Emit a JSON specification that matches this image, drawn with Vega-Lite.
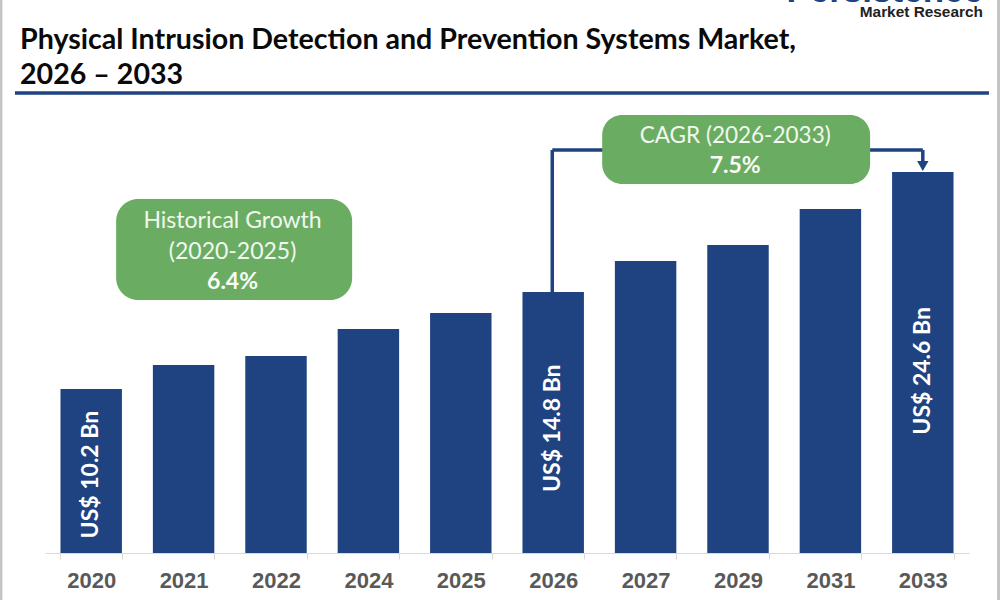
{
  "$schema": "https://vega.github.io/schema/vega-lite/v6.json",
  "width": 924,
  "height": 461,
  "autosize": "none",
  "padding": {"left": 45, "right": 31, "top": 92, "bottom": 47},
  "background": "white",
  "title": {
    "text": ["Physical Intrusion Detection and Prevention Systems Market,", "2026 – 2033"],
    "anchor": "start",
    "frame": "group",
    "dx": -25,
    "offset": -116,
    "font": "Lato",
    "fontWeight": "bold",
    "fontSize": 28.6,
    "lineHeight": 35,
    "color": "#0a0a0a"
  },
  "config": {"view": {"stroke": null}},
  "data": {"values": [{}]},
  "layer": [
    {
      "data": {"values": [
        {"year": "2020", "value": 164},
        {"year": "2021", "value": 188},
        {"year": "2022", "value": 197},
        {"year": "2024", "value": 224},
        {"year": "2025", "value": 240},
        {"year": "2026", "value": 261},
        {"year": "2027", "value": 292},
        {"year": "2029", "value": 308},
        {"year": "2031", "value": 344},
        {"year": "2033", "value": 381}
      ]},
      "mark": {"type": "bar", "color": "#1f4280"},
      "encoding": {
        "x": {
          "field": "year",
          "type": "nominal",
          "title": null,
          "scale": {"paddingInner": 0.335, "paddingOuter": 0.1675},
          "axis": {
            "labelAngle": 0,
            "labelFont": "Liberation Sans",
            "labelFontWeight": "bold",
            "labelFontSize": 22,
            "labelColor": "#595959",
            "labelPadding": 11,
            "tickBand": "extent",
            "tickSize": 6,
            "tickColor": "#d9d9d9",
            "domainColor": "#d9d9d9",
            "grid": false
          }
        },
        "y": {"field": "value", "type": "quantitative", "scale": {"domain": [0, 461]}, "axis": null}
      }
    },
    {
      "data": {"values": [
        {"year": "2020", "value": 164, "label": "US$ 10.2 Bn"},
        {"year": "2026", "value": 261, "label": "US$ 14.8 Bn"},
        {"year": "2033", "value": 381, "label": "US$ 24.6 Bn"}
      ]},
      "transform": [{"calculate": "datum.value * 0.478", "as": "labelAt"}],
      "mark": {"type": "text", "angle": 270, "font": "Lato", "fontWeight": "bold", "fontSize": 23, "color": "white"},
      "encoding": {
        "x": {"field": "year", "type": "nominal", "axis": null, "scale": {"domain": ["2020","2021","2022","2024","2025","2026","2027","2029","2031","2033"]}},
        "y": {"field": "labelAt", "type": "quantitative", "axis": null, "scale": {"domain": [0, 461]}},
        "text": {"field": "label"}
      }
    },
    {
      "mark": {"type": "rule", "color": "#1f4280", "strokeWidth": 3.5},
      "encoding": {
        "x": {"datum": 5.49, "type": "quantitative", "axis": null, "scale": {"domain": [0, 10]}},
        "y": {"datum": 261, "axis": null, "scale": {"domain": [0, 461]}},
        "y2": {"datum": 403}
      }
    },
    {
      "mark": {"type": "rule", "color": "#1f4280", "strokeWidth": 3.5},
      "encoding": {
        "x": {"datum": 5.49, "type": "quantitative", "axis": null, "scale": {"domain": [0, 10]}},
        "x2": {"datum": 9.5},
        "y": {"datum": 403, "axis": null, "scale": {"domain": [0, 461]}}
      }
    },
    {
      "mark": {"type": "rule", "color": "#1f4280", "strokeWidth": 3.5},
      "encoding": {
        "x": {"datum": 9.5, "type": "quantitative", "axis": null, "scale": {"domain": [0, 10]}},
        "y": {"datum": 403, "axis": null, "scale": {"domain": [0, 461]}},
        "y2": {"datum": 388}
      }
    },
    {
      "mark": {"type": "point", "shape": "triangle-down", "filled": true, "color": "#1f4280", "size": 130, "opacity": 1},
      "encoding": {
        "x": {"datum": 9.5, "type": "quantitative", "axis": null, "scale": {"domain": [0, 10]}},
        "y": {"datum": 387, "axis": null, "scale": {"domain": [0, 461]}}
      }
    },
    {
      "mark": {"type": "rect", "color": "#6aad62", "cornerRadius": 22},
      "encoding": {
        "x": {"datum": 0.77, "type": "quantitative", "axis": null, "scale": {"domain": [0, 10]}},
        "x2": {"datum": 3.324},
        "y": {"datum": 354, "axis": null, "scale": {"domain": [0, 461]}},
        "y2": {"datum": 253}
      }
    },
    {
      "mark": {"type": "rect", "color": "#6aad62", "cornerRadius": 20},
      "encoding": {
        "x": {"datum": 6.03, "type": "quantitative", "axis": null, "scale": {"domain": [0, 10]}},
        "x2": {"datum": 8.93},
        "y": {"datum": 438, "axis": null, "scale": {"domain": [0, 461]}},
        "y2": {"datum": 369}
      }
    },
    {
      "mark": {"type": "text", "text": "Historical Growth", "font": "Lato", "fontSize": 23, "color": "#f2f7f0"},
      "encoding": {
        "x": {"datum": 2.03, "type": "quantitative", "axis": null, "scale": {"domain": [0, 10]}},
        "y": {"datum": 332, "axis": null, "scale": {"domain": [0, 461]}}
      }
    },
    {
      "mark": {"type": "text", "text": "(2020-2025)", "font": "Lato", "fontSize": 23, "color": "#f2f7f0"},
      "encoding": {
        "x": {"datum": 2.03, "type": "quantitative", "axis": null, "scale": {"domain": [0, 10]}},
        "y": {"datum": 301, "axis": null, "scale": {"domain": [0, 461]}}
      }
    },
    {
      "mark": {"type": "text", "text": "6.4%", "font": "Lato", "fontWeight": "bold", "fontSize": 23, "color": "#f8fbf6"},
      "encoding": {
        "x": {"datum": 2.03, "type": "quantitative", "axis": null, "scale": {"domain": [0, 10]}},
        "y": {"datum": 271, "axis": null, "scale": {"domain": [0, 461]}}
      }
    },
    {
      "mark": {"type": "text", "text": "CAGR (2026-2033)", "font": "Lato", "fontSize": 22.5, "color": "#f2f7f0"},
      "encoding": {
        "x": {"datum": 7.47, "type": "quantitative", "axis": null, "scale": {"domain": [0, 10]}},
        "y": {"datum": 417, "axis": null, "scale": {"domain": [0, 461]}}
      }
    },
    {
      "mark": {"type": "text", "text": "7.5%", "font": "Lato", "fontWeight": "bold", "fontSize": 23, "color": "#f8fbf6"},
      "encoding": {
        "x": {"datum": 7.47, "type": "quantitative", "axis": null, "scale": {"domain": [0, 10]}},
        "y": {"datum": 387, "axis": null, "scale": {"domain": [0, 461]}}
      }
    },
    {
      "mark": {"type": "rule", "color": "#1f4280", "strokeWidth": 3.5},
      "encoding": {
        "x": {"datum": -0.325, "type": "quantitative", "axis": null, "scale": {"domain": [0, 10]}},
        "x2": {"datum": 10.216},
        "y": {"datum": 460, "axis": null, "scale": {"domain": [0, 461]}}
      }
    },
    {
      "mark": {"type": "rule", "color": "#c4c4c4", "strokeWidth": 3},
      "encoding": {
        "x": {"datum": -0.477, "type": "quantitative", "axis": null, "scale": {"domain": [0, 10]}},
        "y": {"datum": -47, "axis": null, "scale": {"domain": [0, 461]}},
        "y2": {"datum": 553}
      }
    },
    {
      "mark": {"type": "rule", "color": "#c4c4c4", "strokeWidth": 3},
      "encoding": {
        "x": {"datum": 10.32, "type": "quantitative", "axis": null, "scale": {"domain": [0, 10]}},
        "y": {"datum": -47, "axis": null, "scale": {"domain": [0, 461]}},
        "y2": {"datum": 553}
      }
    },
    {
      "mark": {"type": "text", "text": "Persistence", "align": "right", "baseline": "alphabetic", "font": "Liberation Sans", "fontWeight": "bold", "fontSize": 35, "color": "#1f4280"},
      "encoding": {
        "x": {"datum": 10.151, "type": "quantitative", "axis": null, "scale": {"domain": [0, 10]}},
        "y": {"datum": 551, "axis": null, "scale": {"domain": [0, 461]}}
      }
    },
    {
      "mark": {"type": "text", "text": "Market Research", "align": "right", "font": "Liberation Sans", "fontWeight": "bold", "fontSize": 15.4, "color": "#222222"},
      "encoding": {
        "x": {"datum": 10.151, "type": "quantitative", "axis": null, "scale": {"domain": [0, 10]}},
        "y": {"datum": 541, "axis": null, "scale": {"domain": [0, 461]}}
      }
    }
  ],
  "resolve": {"scale": {"x": "independent"}}
}
